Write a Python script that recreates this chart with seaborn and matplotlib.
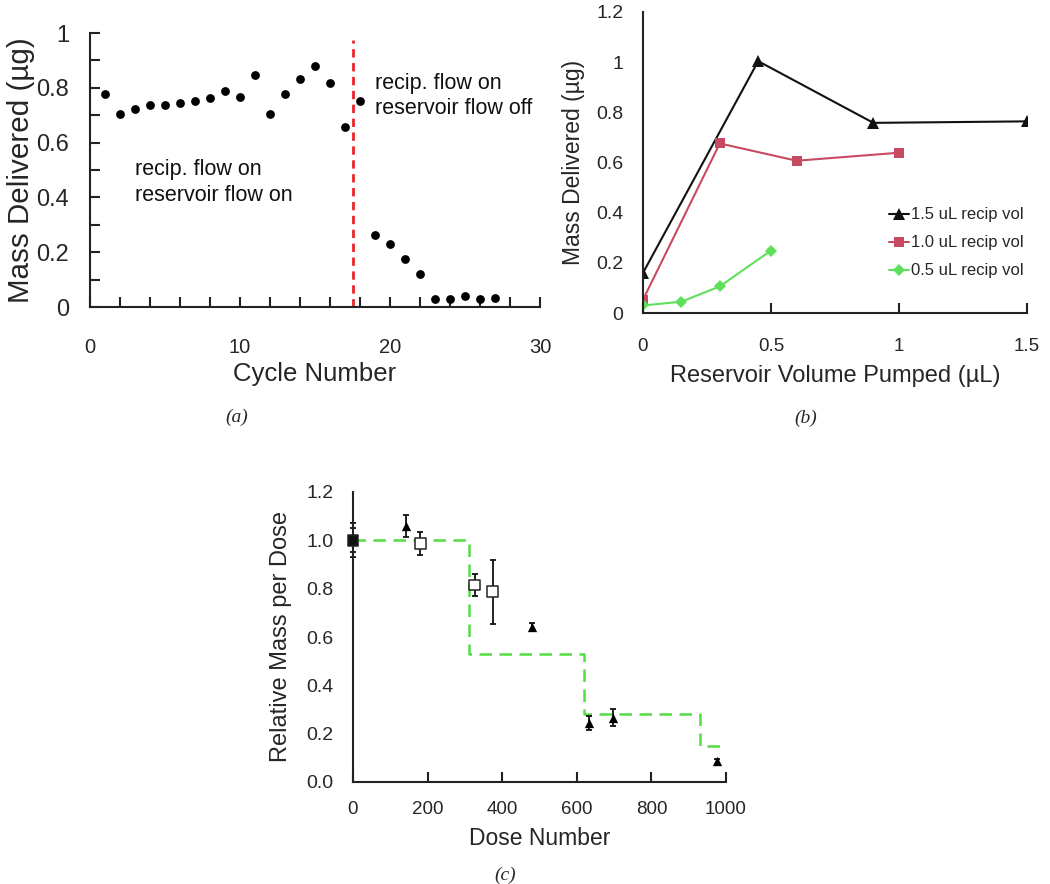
import matplotlib
matplotlib.use("Agg")
import matplotlib.pyplot as plt
import seaborn as sns
import pandas as pd
import numpy as np

sns.set_theme(style="ticks")
plt.rcParams['font.family'] = ['Liberation Sans', 'DejaVu Sans']

# ---------------- data ----------------
# (a)
cycle = list(range(1, 28))
mass_a = [0.776, 0.705, 0.724, 0.736, 0.736, 0.743, 0.752, 0.763, 0.788, 0.768,
          0.847, 0.703, 0.776, 0.833, 0.880, 0.818, 0.656, 0.752,
          0.264, 0.229, 0.174, 0.119, 0.030, 0.031, 0.040, 0.028, 0.033]
switch_cycle = 17.5

# (b)
vol_15 = [0.0, 0.45, 0.9, 1.5]
mass_15 = [0.16, 1.004, 0.758, 0.764]
vol_10 = [0.0, 0.3, 0.6, 1.0]
mass_10 = [0.053, 0.676, 0.607, 0.639]
vol_05 = [0.0, 0.15, 0.3, 0.5]
mass_05 = [0.03, 0.045, 0.106, 0.249]
series_b = ["1.5 uL recip vol", "1.0 uL recip vol", "0.5 uL recip vol"]

# (c)
tri_dose = [0, 142, 480, 632, 697, 976]
tri_rel = [1.0, 1.058, 0.641, 0.244, 0.266, 0.085]
tri_err = [0.05, 0.045, 0.015, 0.03, 0.035, 0.012]
sq_dose = [0, 180, 326, 375]
sq_rel = [1.0, 0.987, 0.815, 0.787]
sq_err = [0.07, 0.048, 0.045, 0.133]
step_dose = [0, 310, 620, 930, 1000]
step_rel = [1.0, 0.53, 0.28, 0.15, 0.15]

# ---------------- figure ----------------
fig = plt.figure(figsize=(10.5, 8.84), dpi=100)
W, H = 1050, 884

def add_ax(l, r, b, t):
    return fig.add_axes([l / W, 1 - b / H, (r - l) / W, (b - t) / H])

axA = add_ax(90, 540, 307, 33)
axB = add_ax(643, 1027, 313, 12)
axC = add_ax(353, 726, 782, 492)

for ax in (axA, axB, axC):
    sns.despine(ax=ax)
    ax.spines['left'].set_color('#222222')
    ax.spines['bottom'].set_color('#222222')
    ax.spines['left'].set_linewidth(1.5)
    ax.spines['bottom'].set_linewidth(1.5)
    ax.set_facecolor('white')

# ---- (a)
dfA = pd.DataFrame({"cycle": cycle, "mass": mass_a})
sns.scatterplot(data=dfA, x="cycle", y="mass", ax=axA, color="black", s=40,
                edgecolor="black", linewidth=0, zorder=3)
axA.axvline(switch_cycle, ymin=0, ymax=0.975, color="#e8262a", lw=2.0,
            dashes=(3, 2), zorder=2)
axA.set_xlim(0, 30)
axA.set_ylim(0, 1)
axA.set_xticks(np.arange(0, 31, 2))
axA.set_xticklabels([str(v) if v % 10 == 0 else "" for v in range(0, 31, 2)])
axA.set_yticks(np.round(np.arange(0, 1.01, 0.1), 1))
axA.set_yticklabels(["0", "", "0.2", "", "0.4", "", "0.6", "", "0.8", "", "1"])
axA.tick_params(axis='x', direction='in', length=7, width=1.5, labelsize=14.5, pad=22, color='#222222')
axA.tick_params(axis='y', direction='in', length=7, width=1.5, labelsize=17, pad=15, color='#222222')
axA.set_xlabel("Cycle Number", fontsize=18.5, labelpad=4)
axA.set_ylabel("Mass Delivered (µg)", fontsize=21.3, labelpad=1)
axA.text(3.0, 0.455, "recip. flow on\nreservoir flow on", fontsize=15.5,
         ha="left", va="center", linespacing=1.3, color="#111111")
axA.text(19.0, 0.77, "recip. flow on\nreservoir flow off", fontsize=15.5,
         ha="left", va="center", linespacing=1.3, color="#111111")

# ---- (b)
dfB = pd.DataFrame({
    "vol": vol_15 + vol_10 + vol_05,
    "mass": mass_15 + mass_10 + mass_05,
    "series": [series_b[0]] * len(vol_15) + [series_b[1]] * len(vol_10) + [series_b[2]] * len(vol_05),
})
palB = {series_b[0]: "#111111", series_b[1]: "#c84a62", series_b[2]: "#5fe05a"}
markB = {series_b[0]: "^", series_b[1]: "s", series_b[2]: "D"}
sns.lineplot(data=dfB, x="vol", y="mass", hue="series", style="series",
             palette=palB, markers=markB, dashes=False, ax=axB, lw=1.5,
             markersize=6.5, markeredgewidth=0, sort=False, estimator=None)
for ln in axB.lines:
    if ln.get_marker() == "^":
        ln.set_markersize(8)
axB.set_xlim(0, 1.5)
axB.set_ylim(0, 1.2)
axB.set_xticks([0, 0.5, 1, 1.5])
axB.set_xticklabels(["0", "0.5", "1", "1.5"])
axB.set_yticks(np.round(np.arange(0, 1.21, 0.2), 1))
axB.set_yticklabels(["0", "0.2", "0.4", "0.6", "0.8", "1", "1.2"])
axB.tick_params(axis='x', direction='in', length=7, width=1.5, labelsize=13.5, pad=18, color='#222222')
axB.tick_params(axis='y', direction='in', length=0, labelsize=14, pad=14)
axB.set_xlabel("Reservoir Volume Pumped (µL)", fontsize=17, labelpad=7)
axB.set_ylabel("Mass Delivered (µg)", fontsize=16.5, labelpad=8)
leg = axB.legend(loc="lower right", bbox_to_anchor=(1.03, 0.065), frameon=False,
                 fontsize=12, handlelength=1.2, handletextpad=0.1,
                 labelspacing=0.78, title=None)
for h in leg.legend_handles:
    if h.get_marker() == "^":
        h.set_markersize(8)

# ---- (c)
axC.errorbar(tri_dose, tri_rel, yerr=tri_err, fmt="none", ecolor="#111111",
             elinewidth=1.3, capsize=2.5, capthick=1.3, zorder=2)
axC.errorbar(sq_dose, sq_rel, yerr=sq_err, fmt="none", ecolor="#111111",
             elinewidth=1.3, capsize=2.5, capthick=1.3, zorder=2)
dfStep = pd.DataFrame({"dose": step_dose, "rel": step_rel})
sns.lineplot(data=dfStep, x="dose", y="rel", ax=axC, color="#55dd44", lw=1.8,
             drawstyle="steps-post", dashes=False, zorder=1, estimator=None, sort=False)
axC.lines[-1].set_dashes((5, 3))
dfTri = pd.DataFrame({"dose": tri_dose, "rel": tri_rel})
sns.scatterplot(data=dfTri, x="dose", y="rel", ax=axC, marker="^", color="black",
                s=45, linewidth=0, zorder=3)
dfSq = pd.DataFrame({"dose": sq_dose, "rel": sq_rel})
sns.scatterplot(data=dfSq, x="dose", y="rel", ax=axC, marker="s", facecolor="white",
                edgecolor="#222222", s=60, linewidth=1.1, zorder=4)
axC.collections[-1].set_facecolors(["#111111", "white", "white", "white"])
for art in axC.get_children():
    if not isinstance(art, matplotlib.spines.Spine):
        try:
            art.set_clip_on(False)
        except Exception:
            pass
axC.set_xlim(0, 1000)
axC.set_ylim(0, 1.2)
axC.set_xticks(np.arange(0, 1001, 200))
axC.set_yticks(np.round(np.arange(0, 1.21, 0.2), 1))
axC.set_yticklabels([f"{v:.1f}" for v in np.arange(0, 1.21, 0.2)])
axC.tick_params(axis='x', direction='in', length=7, width=1.5, labelsize=13.5, pad=14, color='#222222')
axC.tick_params(axis='y', direction='in', length=0, labelsize=14, pad=14)
axC.set_xlabel("Dose Number", fontsize=16.5, labelpad=6)
axC.set_ylabel("Relative Mass per Dose", fontsize=17, labelpad=10)

# ---- panel captions
cap = dict(fontsize=14, style="italic", family=["Liberation Serif", "DejaVu Serif"],
           ha="center", va="center")
fig.text(237 / W, 1 - 417 / H, "(a)", **cap)
fig.text(806 / W, 1 - 418 / H, "(b)", **cap)
fig.text(505 / W, 1 - 875 / H, "(c)", **cap)

fig.savefig("out.png", dpi=100, facecolor="white")
